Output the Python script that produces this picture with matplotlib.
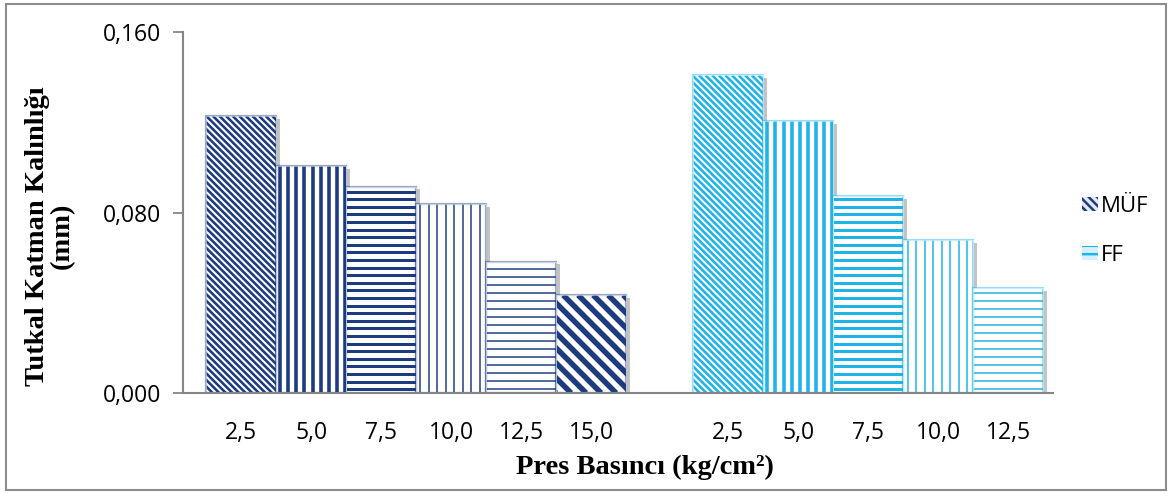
import numpy as np
import matplotlib
matplotlib.use("Agg")
import matplotlib.pyplot as plt
import matplotlib.patheffects as pe
from matplotlib.patches import Rectangle
from matplotlib.collections import LineCollection
from matplotlib.transforms import IdentityTransform

# Glue line thickness (mm) by press pressure (kg/cm2)
muf_pressures = ["2,5", "5,0", "7,5", "10,0", "12,5", "15,0"]
muf_values = [0.1228, 0.1006, 0.0915, 0.0838, 0.0582, 0.0434]
ff_pressures = ["2,5", "5,0", "7,5", "10,0", "12,5"]
ff_values = [0.1408, 0.1205, 0.0872, 0.0676, 0.0464]
y_ticks = [0.0, 0.08, 0.16]
y_tick_labels = ["0,000", "0,080", "0,160"]

MUF_COLOR = "#1d3c80"
FF_COLOR = "#1fb3e8"

# stripe pattern per pressure level: (direction, spacing px, stripe width px)
stripe_styles = [
    ("diag", 6.6, 2.6),
    ("vert", 8.1, 3.6),
    ("horz", 7.6, 3.0),
    ("vert", 8.5, 1.5),
    ("horz", 8.0, 1.5),
    ("diag", 15.0, 5.5),
]

sans = ["Open Sans", "DejaVu Sans"]
serif = ["Liberation Serif", "DejaVu Serif"]
plt.rcParams["hatch.linewidth"] = 1.8

fig = plt.figure(figsize=(11.74, 4.98), dpi=100)
ax = fig.add_axes([0.1559, 0.2108, 0.897 - 0.1559, 0.9357 - 0.2108])
ax.set_xlim(-0.83, 11.6)
ax.set_ylim(0, 0.16)

ff_offset = 6.96
muf_x = list(range(len(muf_values)))
ff_x = [ff_offset + i for i in range(len(ff_values))]

shadow = [pe.SimplePatchShadow(offset=(2.5, -2.0), shadow_rgbFace="#8a8a8a", alpha=0.5),
          pe.Normal()]


def stripe_segments(bbox, kind, spacing):
    x0, y0, x1, y1 = bbox.x0, bbox.y0, bbox.x1, bbox.y1
    segs = []
    if kind == "vert":
        for x in np.arange(x0 + spacing / 2, x1, spacing):
            segs.append([(x, y0), (x, y1)])
    elif kind == "horz":
        for y in np.arange(y0 + spacing / 2, y1, spacing):
            segs.append([(x0, y), (x1, y)])
    else:
        # lines running from upper left to lower right: x + y = c
        for c in np.arange(x0 + y0, x1 + y1 + spacing, spacing):
            segs.append([(c - y1, y1), (c - y0, y0)])
    return segs


def draw_bars(xs, vals, color):
    bars = ax.bar(xs, vals, width=1.0, color="white", edgecolor="none",
                  linewidth=0, zorder=3)
    for bar, (kind, spacing, width_px) in zip(bars, stripe_styles):
        bar.set_path_effects(shadow)
        bbox = bar.get_window_extent()
        lc = LineCollection(stripe_segments(bbox, kind, spacing),
                            colors=color, linewidths=width_px * 72 / 100,
                            transform=IdentityTransform(), zorder=4)
        ax.add_collection(lc, autolim=False)
        lc.set_clip_path(bar)
        # soft bevel around the bar
        x0, w, h = bar.get_x(), bar.get_width(), bar.get_height()
        ax.add_patch(Rectangle((x0, 0), w, h, fill=False, edgecolor=color,
                               linewidth=1.6, alpha=0.45, zorder=5))
        ax.add_patch(Rectangle((x0, 0), w, h, fill=False, edgecolor="white",
                               linewidth=0.6, alpha=0.6, zorder=5))
    return bars


muf_bars = draw_bars(muf_x, muf_values, MUF_COLOR)
ff_bars = draw_bars(ff_x, ff_values, FF_COLOR)

ax.set_xlim(-0.83, 11.6)
ax.set_ylim(0, 0.16)
ax.set_yticks(y_ticks)
ax.set_yticklabels(y_tick_labels, family=sans, fontsize=16.5)
ax.set_xticks(muf_x + ff_x)
ax.set_xticklabels(muf_pressures + ff_pressures, family=sans, fontsize=16.5)

for side in ("top", "right"):
    ax.spines[side].set_visible(False)
for side in ("left", "bottom"):
    ax.spines[side].set_color("#868686")
    ax.spines[side].set_linewidth(1.5)
ax.spines["bottom"].set_zorder(6)
ax.tick_params(axis="y", length=7, width=1.3, color="#868686", pad=9)
ax.tick_params(axis="x", length=0, pad=20)

fig.text(645 / 1174, 1 - 467 / 498, "Pres Basıncı (kg/cm²)", family=serif,
         fontweight="bold", fontsize=20.5, ha="center", va="center")
fig.text(50 / 1174, 1 - 236 / 498, "Tutkal Katman Kalınlığı\n(mm)", rotation=90,
         family=serif, fontweight="bold", fontsize=20.5, ha="center",
         va="center", multialignment="center", linespacing=1.0)

# legend
leg_handles = [
    Rectangle((0, 0), 1, 1, facecolor="#e4e8f2", edgecolor=MUF_COLOR,
              linewidth=0, hatch="\\\\\\\\"),
    Rectangle((0, 0), 1, 1, facecolor="#d6f1fb", edgecolor=FF_COLOR,
              linewidth=0, hatch="--"),
]
leg = fig.legend(leg_handles, ["MÜF", "FF"], loc="center left",
                 bbox_to_anchor=(1082 / 1174, 1 - 231 / 498), frameon=False,
                 prop={"family": sans, "size": 16}, handlelength=0.7,
                 handleheight=0.6, handletextpad=0.15, labelspacing=1.25,
                 borderpad=0, borderaxespad=0)

# figure frame
fig.patches.append(Rectangle((0.005, 0.016), 0.988, 0.976, transform=fig.transFigure,
                             fill=False, edgecolor="#8c8c8c", linewidth=1.5))

fig.savefig("out.png", dpi=100)
